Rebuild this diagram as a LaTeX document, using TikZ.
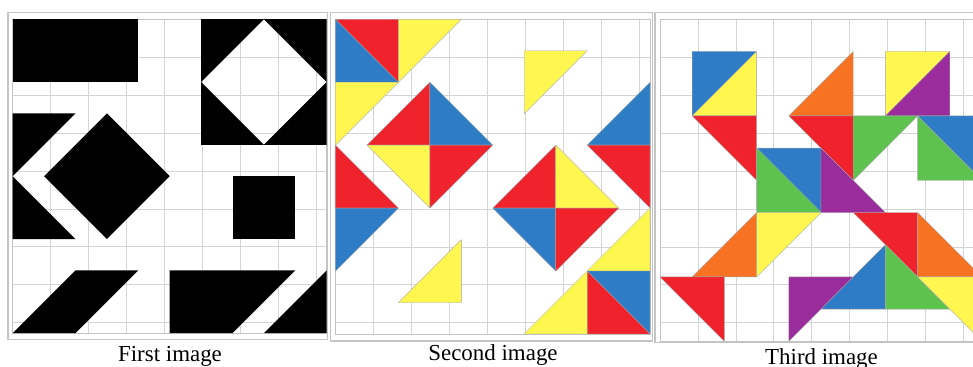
\documentclass[tikz,border=0pt]{standalone}
\usepackage{fontspec}
\setmainfont{Liberation Serif}
\definecolor{cred}{HTML}{F0222B}
\definecolor{cblue}{HTML}{2F7CC6}
\definecolor{cyellow}{HTML}{FFF650}
\definecolor{cgreen}{HTML}{5DC24E}
\definecolor{corange}{HTML}{F77222}
\definecolor{cpurple}{HTML}{9A2C9C}
\definecolor{gridgray}{HTML}{D4D4D4}
\definecolor{framegray}{HTML}{C4C4C4}
\begin{document}
\begin{tikzpicture}[x=0.75pt,y=-0.75pt,
  gridline/.style={draw=gridgray,line width=0.55pt},
  gridborder/.style={draw=framegray,line width=0.7pt},
  frameline/.style={draw=framegray,line width=1pt},
  piece/.style={draw=black!35,line width=0.25pt,line join=round},
  blk/.style={fill=black},
  captxt/.style={font=\fontsize{17.2}{20}\selectfont,anchor=base,inner sep=0pt}]
\useasboundingbox (0,0) rectangle (973,367);
\fill[white] (0,0) rectangle (973,367);
\begin{scope}
\clip (0,0) rectangle (973,367);
% frames
\draw[frameline] (8,12.7) rectangle (327.5,339.5);
\draw[frameline] (330.8,12.7) rectangle (652.5,341);
\draw[frameline] (655,12.7) rectangle (995,342.5);
% ---------------- panel 1
\begin{scope}[xshift=9.525pt,yshift=-14.4pt,x=23.55pt,y=-23.55pt]
\draw[gridline] (0,0) grid (10,10);
\draw[gridborder] (0,0) rectangle (10,10);
\fill[blk] (0,0) rectangle (4,2);
\fill[blk] (6,0)--(8,0)--(6,2)--cycle;
\fill[blk] (8,0)--(10,0)--(10,2)--cycle;
\fill[blk] (10,2)--(10,4)--(8,4)--cycle;
\fill[blk] (6,2)--(8,4)--(6,4)--cycle;
\fill[blk] (0,3)--(2,3)--(0,5)--cycle;
\fill[blk] (0,5)--(2,7)--(0,7)--cycle;
\fill[blk] (3,3)--(5,5)--(3,7)--(1,5)--cycle;
\fill[blk] (7,5) rectangle (9,7);
\fill[blk] (0,10)--(2,8)--(4,8)--(2,10)--cycle;
\fill[blk] (5,8)--(9,8)--(7,10)--(5,10)--cycle;
\fill[blk] (10,8)--(10,10)--(8,10)--cycle;
\end{scope}
% ---------------- panel 2
\begin{scope}[xshift=251.6pt,yshift=-14.475pt,x=23.6pt,y=-23.6pt]
\draw[gridline] (0,0) grid (10,10);
\draw[gridborder] (0,0) rectangle (10,10);
\filldraw[piece,fill=cred] (0,0)--(2,0)--(2,2)--cycle;
\filldraw[piece,fill=cblue] (0,0)--(2,2)--(0,2)--cycle;
\filldraw[piece,fill=cyellow] (2,0)--(4,0)--(2,2)--cycle;
\filldraw[piece,fill=cyellow] (0,2)--(2,2)--(0,4)--cycle;
\filldraw[piece,fill=cred] (3,2)--(3,4)--(1,4)--cycle;
\filldraw[piece,fill=cblue] (3,2)--(5,4)--(3,4)--cycle;
\filldraw[piece,fill=cyellow] (1,4)--(3,4)--(3,6)--cycle;
\filldraw[piece,fill=cred] (3,4)--(5,4)--(3,6)--cycle;
\filldraw[piece,fill=cred] (0,4)--(2,6)--(0,6)--cycle;
\filldraw[piece,fill=cblue] (0,6)--(2,6)--(0,8)--cycle;
\filldraw[piece,fill=cyellow] (2,9)--(4,7)--(4,9)--cycle;
\filldraw[piece,fill=cyellow] (6,1)--(8,1)--(6,3)--cycle;
\filldraw[piece,fill=cblue] (8,4)--(10,2)--(10,4)--cycle;
\filldraw[piece,fill=cred] (8,4)--(10,4)--(10,6)--cycle;
\filldraw[piece,fill=cred] (7,4)--(7,6)--(5,6)--cycle;
\filldraw[piece,fill=cyellow] (7,4)--(9,6)--(7,6)--cycle;
\filldraw[piece,fill=cblue] (5,6)--(7,6)--(7,8)--cycle;
\filldraw[piece,fill=cred] (7,6)--(9,6)--(7,8)--cycle;
\filldraw[piece,fill=cyellow] (8,8)--(10,6)--(10,8)--cycle;
\filldraw[piece,fill=cblue] (8,8)--(10,8)--(10,10)--cycle;
\filldraw[piece,fill=cred] (8,8)--(10,10)--(8,10)--cycle;
\filldraw[piece,fill=cyellow] (6,10)--(8,8)--(8,10)--cycle;
\end{scope}
% ---------------- panel 3
\begin{scope}[xshift=495pt,yshift=-14.475pt,x=24.15pt,y=-24.15pt]
\draw[gridline] (0,0) grid (10,10);
\draw[gridborder] (0,0) rectangle (10,10);
\filldraw[piece,fill=cblue] (1,1)--(3,1)--(1,3)--cycle;
\filldraw[piece,fill=cyellow] (3,1)--(3,3)--(1,3)--cycle;
\filldraw[piece,fill=cred] (1,3)--(3,3)--(3,5)--cycle;
\filldraw[piece,fill=corange] (4,3)--(6,1)--(6,3)--cycle;
\filldraw[piece,fill=cyellow] (7,1)--(9,1)--(7,3)--cycle;
\filldraw[piece,fill=cpurple] (9,1)--(9,3)--(7,3)--cycle;
\filldraw[piece,fill=cred] (4,3)--(6,3)--(6,5)--cycle;
\filldraw[piece,fill=cgreen] (6,3)--(8,3)--(6,5)--cycle;
\filldraw[piece,fill=cblue] (8,3)--(10,3)--(10,5)--cycle;
\filldraw[piece,fill=cgreen] (8,3)--(10,5)--(8,5)--cycle;
\filldraw[piece,fill=cblue] (3,4)--(5,4)--(5,6)--cycle;
\filldraw[piece,fill=cgreen] (3,4)--(5,6)--(3,6)--cycle;
\filldraw[piece,fill=cpurple] (5,4)--(7,6)--(5,6)--cycle;
\filldraw[piece,fill=corange] (1,8)--(3,6)--(3,8)--cycle;
\filldraw[piece,fill=cyellow] (3,6)--(5,6)--(3,8)--cycle;
\filldraw[piece,fill=cred] (6,6)--(8,6)--(8,8)--cycle;
\filldraw[piece,fill=corange] (8,6)--(10,8)--(8,8)--cycle;
\filldraw[piece,fill=cblue] (5,9)--(7,7)--(7,9)--cycle;
\filldraw[piece,fill=cgreen] (7,7)--(9,9)--(7,9)--cycle;
\filldraw[piece,fill=cyellow] (8,8)--(10,8)--(10,10)--cycle;
\filldraw[piece,fill=cred] (0,8)--(2,8)--(2,10)--cycle;
\filldraw[piece,fill=cpurple] (4,8)--(6,8)--(4,10)--cycle;
\end{scope}
\end{scope}
% captions
\node[captxt] (cap1) at (170,361.5) {First image};
\node[captxt] (cap2) at (493,360.5) {Second image};
\node[captxt] (cap3) at (821.5,364) {Third image};
\end{tikzpicture}
\end{document}
